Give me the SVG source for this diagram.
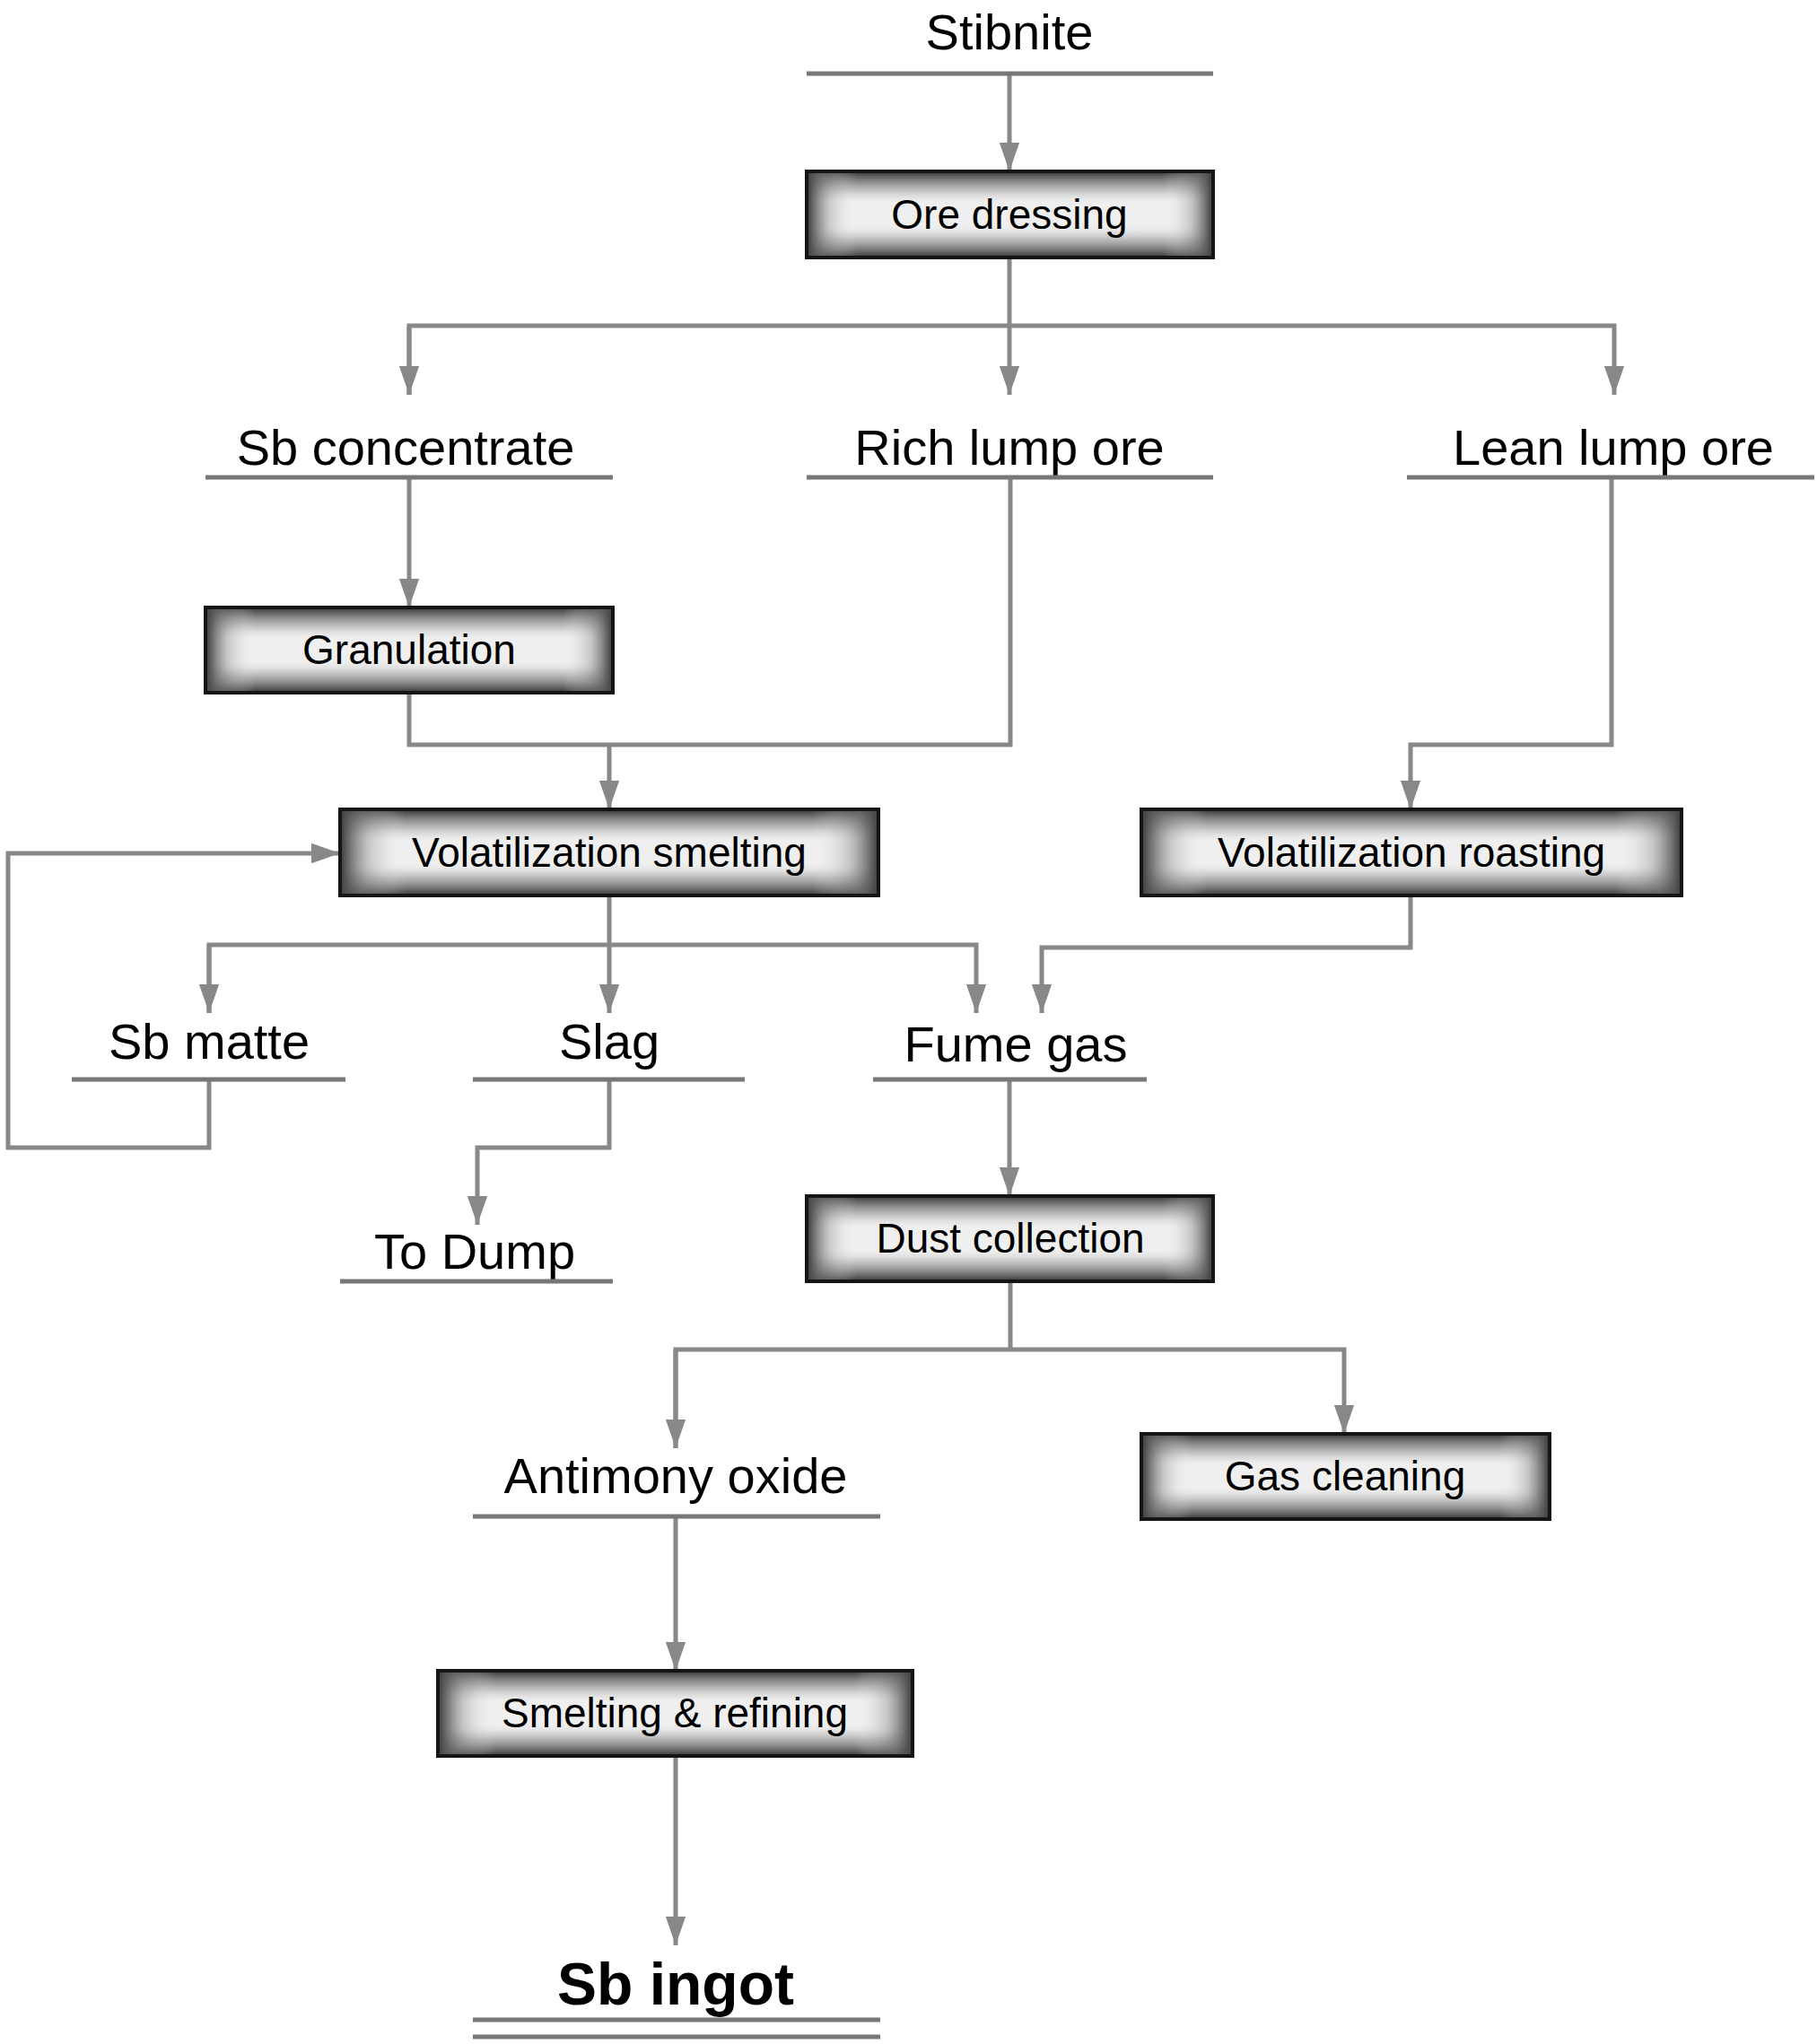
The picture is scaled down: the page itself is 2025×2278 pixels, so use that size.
<svg xmlns="http://www.w3.org/2000/svg" width="2025" height="2278" viewBox="0 0 2025 2278">
<style>
.c{fill:none;stroke:#888;stroke-width:5}
.ul{stroke:#777;stroke-width:5}
.b{stroke:#151515;stroke-width:4;fill:#efefef}
.gv{fill:url(#gv);stroke:none}
.gh{fill:url(#gh);stroke:none}
.bt{font-family:"Liberation Sans",Arial,sans-serif;font-size:46px;text-anchor:middle;dominant-baseline:central;fill:#000}
.lt{font-family:"Liberation Sans",Arial,sans-serif;font-size:56px;text-anchor:middle;fill:#000}
</style>
<defs>
<linearGradient id="gv" x1="0" y1="0" x2="0" y2="1">
<stop offset="0" stop-color="#444" stop-opacity="1"/><stop offset="0.2" stop-color="#888" stop-opacity="0.5"/><stop offset="0.4" stop-color="#fff" stop-opacity="0"/><stop offset="0.6" stop-color="#fff" stop-opacity="0"/><stop offset="0.8" stop-color="#888" stop-opacity="0.5"/><stop offset="1" stop-color="#444" stop-opacity="1"/>
</linearGradient>
<linearGradient id="gh" x1="0" y1="0" x2="1" y2="0">
<stop offset="0" stop-color="#444" stop-opacity="1"/><stop offset="0.05" stop-color="#888" stop-opacity="0.4"/><stop offset="0.12" stop-color="#fff" stop-opacity="0"/><stop offset="0.88" stop-color="#fff" stop-opacity="0"/><stop offset="0.95" stop-color="#888" stop-opacity="0.4"/><stop offset="1" stop-color="#444" stop-opacity="1"/>
</linearGradient>
<marker id="a" markerUnits="userSpaceOnUse" markerWidth="32" markerHeight="46" refX="46" refY="16" orient="auto" viewBox="0 0 46 32">
<path d="M0,0 L46,16 L0,32 Z" fill="#888"/>
</marker>
</defs>
<rect width="2025" height="2278" fill="#fff"/>
<g id="connectors">
<path class="c" d="M1125,82 V191" marker-end="url(#a)"/>
<path class="c" d="M1125,287 V440" marker-end="url(#a)"/>
<path class="c" d="M456,440 V363 H1799 V440" marker-end="url(#a)"/>
<path class="c" d="M456,363 V440" marker-end="url(#a)"/>
<path class="c" d="M456,532 V677" marker-end="url(#a)"/>
<path class="c" d="M456,772 V830 H1126 V532"/>
<path class="c" d="M679,830 V902" marker-end="url(#a)"/>
<path class="c" d="M1796,532 V830 H1572 V902" marker-end="url(#a)"/>
<path class="c" d="M233,1203 V1279 H9 V951 H379" marker-end="url(#a)"/>
<path class="c" d="M679,998 V1129" marker-end="url(#a)"/>
<path class="c" d="M233,1129 V1053 H1088 V1129" marker-end="url(#a)"/>
<path class="c" d="M233,1053 V1129" marker-end="url(#a)"/>
<path class="c" d="M1572,998 V1056 H1161 V1129" marker-end="url(#a)"/>
<path class="c" d="M679,1203 V1279 H532 V1365" marker-end="url(#a)"/>
<path class="c" d="M1125,1203 V1333" marker-end="url(#a)"/>
<path class="c" d="M1126,1428 V1504"/>
<path class="c" d="M753,1614 V1504 H1498 V1598" marker-end="url(#a)"/>
<path class="c" d="M753,1504 V1614" marker-end="url(#a)"/>
<path class="c" d="M753,1690 V1862" marker-end="url(#a)"/>
<path class="c" d="M753,1957 V2168" marker-end="url(#a)"/>
</g>
<g id="stibnite"><text class="lt" x="1125" y="55">Stibnite</text><line class="ul" x1="899" y1="82" x2="1352" y2="82"/></g>
<g id="ore-dressing"><rect class="b" x="899" y="191" width="453" height="96"/><rect class="gv" x="901" y="193" width="449" height="92"/><rect class="gh" x="901" y="193" width="449" height="92"/><rect x="899" y="191" width="453" height="96" fill="none" stroke="#151515" stroke-width="4"/><text class="bt" x="1125" y="239">Ore dressing</text></g>
<g id="sb-concentrate"><text class="lt" x="452" y="518">Sb concentrate</text><line class="ul" x1="229" y1="532" x2="683" y2="532"/></g>
<g id="rich-lump-ore"><text class="lt" x="1125" y="518">Rich lump ore</text><line class="ul" x1="899" y1="532" x2="1352" y2="532"/></g>
<g id="lean-lump-ore"><text class="lt" x="1798" y="518">Lean lump ore</text><line class="ul" x1="1568" y1="532" x2="2022" y2="532"/></g>
<g id="granulation"><rect class="b" x="229" y="677" width="454" height="95"/><rect class="gv" x="231" y="679" width="450" height="91"/><rect class="gh" x="231" y="679" width="450" height="91"/><text class="bt" x="456" y="724">Granulation</text></g>
<g id="vol-smelting"><rect class="b" x="379" y="902" width="600" height="96"/><rect class="gv" x="381" y="904" width="596" height="92"/><rect class="gh" x="381" y="904" width="596" height="92"/><text class="bt" x="679" y="950">Volatilization smelting</text></g>
<g id="vol-roasting"><rect class="b" x="1272" y="902" width="602" height="96"/><rect class="gv" x="1274" y="904" width="598" height="92"/><rect class="gh" x="1274" y="904" width="598" height="92"/><text class="bt" x="1573" y="950">Volatilization roasting</text></g>
<g id="sb-matte"><text class="lt" x="233" y="1180">Sb matte</text><line class="ul" x1="80" y1="1203" x2="385" y2="1203"/></g>
<g id="slag"><text class="lt" x="679" y="1180">Slag</text><line class="ul" x1="527" y1="1203" x2="830" y2="1203"/></g>
<g id="fume-gas"><text class="lt" x="1132" y="1183">Fume gas</text><line class="ul" x1="973" y1="1203" x2="1278" y2="1203"/></g>
<g id="to-dump"><text class="lt" x="529" y="1414">To Dump</text><line class="ul" x1="379" y1="1428" x2="683" y2="1428"/></g>
<g id="dust-collection"><rect class="b" x="899" y="1333" width="453" height="95"/><rect class="gv" x="901" y="1335" width="449" height="91"/><rect class="gh" x="901" y="1335" width="449" height="91"/><text class="bt" x="1126" y="1380">Dust collection</text></g>
<g id="antimony-oxide"><text class="lt" x="753" y="1664">Antimony oxide</text><line class="ul" x1="527" y1="1690" x2="981" y2="1690"/></g>
<g id="gas-cleaning"><rect class="b" x="1272" y="1598" width="455" height="95"/><rect class="gv" x="1274" y="1600" width="451" height="91"/><rect class="gh" x="1274" y="1600" width="451" height="91"/><text class="bt" x="1499" y="1645">Gas cleaning</text></g>
<g id="smelting-refining"><rect class="b" x="488" y="1862" width="529" height="95"/><rect class="gv" x="490" y="1864" width="525" height="91"/><rect class="gh" x="490" y="1864" width="525" height="91"/><text class="bt" x="752" y="1909">Smelting &amp; refining</text></g>
<g id="sb-ingot"><text class="lt" x="753" y="2234" style="font-size:66px;font-weight:bold">Sb ingot</text><line class="ul" x1="527" y1="2251" x2="981" y2="2251"/><line class="ul" x1="527" y1="2270" x2="981" y2="2270"/></g>
</svg>
